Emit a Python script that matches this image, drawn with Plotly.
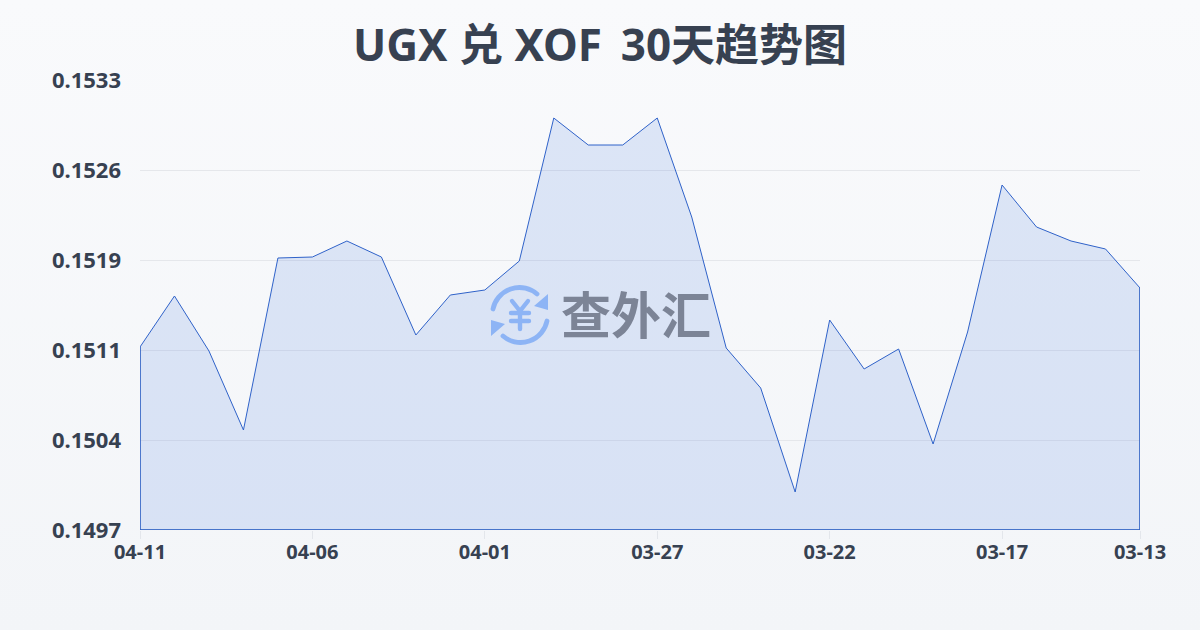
"""UGX / XOF 30-day trend chart."""
import base64

import plotly.graph_objects as go

DATES = [
    "04-11", "04-10", "04-09", "04-08", "04-07", "04-06", "04-05", "04-04", "04-03", "04-02",
    "04-01", "03-31", "03-30", "03-29", "03-28", "03-27", "03-26", "03-25", "03-24", "03-23",
    "03-22", "03-21", "03-20", "03-19", "03-18", "03-17", "03-16", "03-15", "03-14", "03-13",
]
RATES = [
    0.151164, 0.151572, 0.151132, 0.150500, 0.151876, 0.151884, 0.152012, 0.151884, 0.151260, 0.151580,
    0.151620, 0.151852, 0.152996, 0.152780, 0.152780, 0.152996, 0.152204, 0.151156, 0.150836, 0.150004,
    0.151380, 0.150988, 0.151148, 0.150388, 0.151284, 0.152460, 0.152124, 0.152012, 0.151948, 0.151636,
]
X_TICKS = ["04-11", "04-06", "04-01", "03-27", "03-22", "03-17", "03-13"]
Y_TICKS = [0.1497, 0.15042, 0.15114, 0.15186, 0.15258, 0.1533]
Y_LABELS = ["0.1497", "0.1504", "0.1511", "0.1519", "0.1526", "0.1533"]
TITLE = "UGX 兑 XOF\u2006 30天趋势图"
WATERMARK = "查外汇"

_FONT = "Noto Sans, Noto Sans CJK SC"
_INK = "#374151"
_LINE = "#2f62c9"


def _data_uri(svg: str) -> str:
    return "data:image/svg+xml;base64," + base64.b64encode(svg.encode()).decode()


_BACKGROUND = _data_uri(
    '<svg xmlns="http://www.w3.org/2000/svg" width="1200" height="630" preserveAspectRatio="none">'
    '<defs><linearGradient id="g" x1="0" y1="0" x2="0" y2="1">'
    '<stop offset="0" stop-color="#f9fafc"/><stop offset="1" stop-color="#f3f5f8"/>'
    '</linearGradient></defs><rect width="1200" height="630" fill="url(#g)"/></svg>'
)

# exchange arrows round a yen sign
_LOGO = _data_uri(
    '<svg xmlns="http://www.w3.org/2000/svg" width="60" height="60" viewBox="0 0 60 60">'
    '<g fill="none" stroke="#8db4f5" stroke-linecap="round">'
    '<path stroke-width="4.8" d="M3 24 A27 27 0 0 1 47 9"/>'
    '<path stroke-width="4.8" d="M57 36 A27 27 0 0 1 13 51"/>'
    '<path stroke-width="4.4" d="M22 16 L30 26 L38 16 M30 26 V44 M21 28 H39 M21 36 H39"/></g>'
    '<path d="M58 9 V25 L44 21 Z M1 51 V35 L15 39 Z" fill="#8db4f5"/></svg>'
)

fig = go.Figure()
fig.add_trace(go.Scatter(
    x=DATES + [DATES[-1], DATES[0], DATES[0]],
    y=RATES + [Y_TICKS[0], Y_TICKS[0], RATES[0]],
    mode="lines",
    line=dict(color=_LINE, width=1),
    fill="toself",
    fillcolor="rgba(59,112,222,0.15)",
    hoverinfo="skip",
    cliponaxis=False,
    showlegend=False,
))
# the closing edges of the area are drawn heavier than the series line
fig.add_trace(go.Scatter(
    x=[DATES[-1], DATES[-1], DATES[0], DATES[0]],
    y=[RATES[-1], Y_TICKS[0], Y_TICKS[0], RATES[0]],
    mode="lines",
    line=dict(color="#3565c4", width=1.4),
    hoverinfo="skip",
    cliponaxis=False,
    showlegend=False,
))

fig.update_xaxes(
    type="category", categoryorder="array", categoryarray=DATES, range=[0, len(DATES) - 1],
    tickmode="array", tickvals=X_TICKS, ticktext=[f"<b>{t}</b>" for t in X_TICKS],
    ticks="outside", ticklen=8, tickwidth=1, tickcolor="#e3e6eb", ticklabelstandoff=-4,
    showgrid=False, zeroline=False, showline=False,
    tickfont=dict(family=_FONT, size=20, color=_INK),
)
fig.update_yaxes(
    range=[Y_TICKS[0], Y_TICKS[-1]],
    tickmode="array", tickvals=Y_TICKS, ticktext=[f"<b>{t}</b>" for t in Y_LABELS],
    ticks="", ticklabelstandoff=18,
    showgrid=True, gridcolor="#e5e7eb", gridwidth=1, zeroline=False, showline=False,
    tickfont=dict(family=_FONT, size=22, color=_INK),
)

fig.update_layout(
    width=1200, height=630,
    autosize=False,
    margin=dict(l=140, r=60, t=80, b=100),
    paper_bgcolor="#f6f7fa", plot_bgcolor="rgba(0,0,0,0)",
    title=dict(text=f"<b>{TITLE}</b>", x=0.5, xanchor="center", y=0.927, yanchor="middle",
               font=dict(family=_FONT, size=44, color=_INK)),
    images=[
        dict(source=_BACKGROUND, xref="paper", yref="paper", x=-140 / 1000, y=1 + 80 / 450,
             sizex=1.2, sizey=630 / 450, sizing="stretch", xanchor="left", yanchor="top", layer="below"),
        dict(source=_LOGO, xref="paper", yref="paper", x=350 / 1000, y=(530 - 285) / 450,
             sizex=60 / 1000, sizey=60 / 450, sizing="stretch", xanchor="left", yanchor="top", layer="above"),
    ],
    annotations=[dict(
        text=f"<b>{WATERMARK}</b>", xref="paper", yref="paper", x=496 / 1000, y=(530 - 315) / 450,
        xanchor="center", yanchor="middle", showarrow=False,
        font=dict(family=_FONT, size=50, color="#7c8496"),
    )],
)

# the page's default body margin would push the chart 8px off
fig.write_html("out.html", config={"displayModeBar": False},
               post_script="document.body.style.margin = '0';")
